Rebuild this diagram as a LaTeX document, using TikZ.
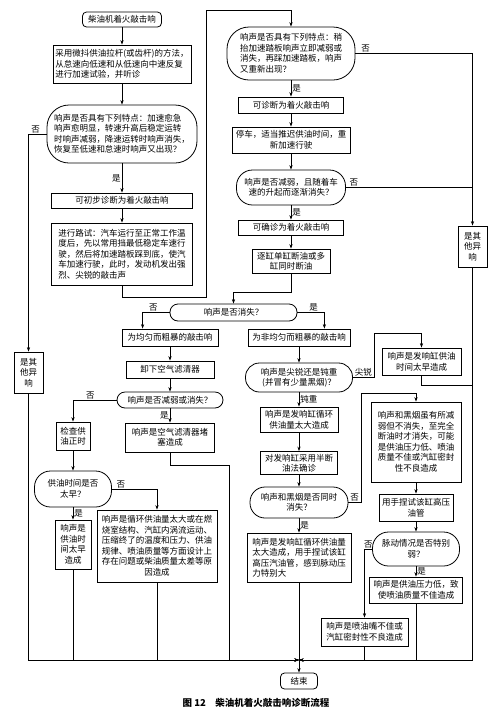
\documentclass[tikz,border=0pt]{standalone}
\usepackage{fontspec}
\setmainfont{Noto Sans CJK SC}
\usetikzlibrary{arrows.meta}

\begin{document}
\begin{tikzpicture}[x=1pt,y=-1pt,
  every node/.style={font=\fontsize{8.5}{10.5}\selectfont, inner sep=2pt},
  box/.style={draw, line width=0.8pt, align=center},
  lbox/.style={box, align=left},
  dec/.style={box, rounded corners=#1},
  ldec/.style={dec=#1, align=left},
  lbl/.style={inner sep=1pt},
  line/.style={line width=0.6pt},
  arr/.style={line width=0.6pt, -{Stealth[length=4.5pt,width=3.2pt]}}]
\useasboundingbox (0,0) rectangle (500,713);

%Left column: first tests
\node[dec=4pt, minimum width=79pt, minimum height=15pt] (start) at (122,19.5) {柴油机着火敲击响};
\node[lbox, minimum width=138pt, minimum height=38pt] (feed) at (122,64) {采用微抖供油拉杆(或齿杆)的方法，\\从怠速向低速和从低速向中速反复\\进行加速试验，并听诊};
\node[ldec=22pt, minimum width=150pt, minimum height=58pt] (accel) at (122,134) {响声是否具有下列特点：加速愈急\\响声愈明显，转速升高后稳定运转\\时响声减弱，降速运转时响声消失，\\恢复至低速和怠速时响声又出现？};
\node[box, minimum width=141pt, minimum height=15pt] (prelim) at (122,200.5) {可初步诊断为着火敲击响};
\node[lbox, minimum width=141pt, minimum height=62pt] (road) at (122,254) {进行路试：汽车运行至正常工作温\\度后，先以常用挡最低稳定车速行\\驶，然后将加速踏板踩到底，使汽\\车加速行驶，此时，发动机发出强\\烈、尖锐的敲击声};

%Right column: confirm the knock
\node[ldec=22pt, minimum width=128pt, minimum height=53pt] (pedal) at (291,53.5) {响声是否具有下列特点：稍\\抬加速踏板响声立即减弱或\\消失，再踩加速踏板，响声\\又重新出现？};
\node[box, minimum width=105pt, minimum height=16pt] (diag) at (291,105) {可诊断为着火敲击响};
\node[box, minimum width=118pt, minimum height=26pt] (retard) at (291,140) {停车，适当推迟供油时间，重\\新加速行驶};
\node[dec=16pt, minimum width=109pt, minimum height=35pt] (fade) at (291,187.5) {响声是否减弱，且随着车\\速的升起而逐渐消失？};
\node[box, minimum width=105pt, minimum height=15pt] (confirm) at (291,227.5) {可确诊为着火敲击响};
\node[box, minimum width=78pt, minimum height=24pt] (cutoff) at (291,261) {逐缸单缸断油或多\\缸同时断油};
\node[box, minimum width=29pt, minimum height=41pt] (otherR) at (472.5,246.5) {是其\\他异\\响};
\node[box, minimum width=29pt, minimum height=41pt] (otherL) at (28.5,372.5) {是其\\他异\\响};

\node[dec=8pt, minimum width=127pt, minimum height=17pt] (gone) at (233.5,312.5) {响声是否消失？};

%Even, rough knock
\node[box, minimum width=96pt, minimum height=17pt] (even) at (170,337.5) {为均匀而粗暴的敲击响};
\node[box, minimum width=88pt, minimum height=17pt] (filter) at (170,369.5) {卸下空气滤清器};
\node[dec=8pt, minimum width=106pt, minimum height=16pt] (weaker) at (170,400) {响声是否减弱或消失？};
\node[box, minimum width=34pt, minimum height=28pt] (timing) at (73,436) {检查供\\油正时};
\node[box, minimum width=89pt, minimum height=29pt] (clogged) at (170,437.5) {响声是空气滤清器堵\\塞造成};
\node[dec=16pt, minimum width=77pt, minimum height=36pt] (early) at (73,489) {供油时间是否\\太早？};
\node[box, minimum width=36pt, minimum height=49pt] (earlyres) at (73,544.5) {响声是\\供油时\\间太早\\造成};
\node[box, minimum width=120pt, minimum height=72pt] (design) at (157,546) {响声是循环供油量太大或在燃\\烧室结构、汽缸内涡流运动、\\压缩终了的温度和压力、供油\\规律、喷油质量等方面设计上\\存在问题或柴油质量太差等原\\因造成};

%Uneven, rough knock
\node[box, minimum width=102pt, minimum height=17pt] (uneven) at (299,337.5) {为非均匀而粗暴的敲击响};
\node[dec=14pt, minimum width=107pt, minimum height=29pt] (sharp) at (299,377.5) {响声是尖锐还是钝重\\(并冒有少量黑烟)？};
\node[box, minimum width=79pt, minimum height=27pt] (cylearly) at (421.5,361.5) {响声是发响缸供油\\时间太早造成};
\node[box, minimum width=78pt, minimum height=25pt] (excess) at (299,419.5) {响声是发响缸循环\\供油量太大造成};
\node[box, minimum width=77pt, minimum height=23pt] (halfcut) at (299,463) {对发响缸采用半断\\油法确诊};
\node[dec=15pt, minimum width=98pt, minimum height=31pt] (smoke) at (299,502.5) {响声和黑烟是否同时\\消失？};
\node[lbox, minimum width=104pt, minimum height=49pt] (excess2) at (299,557.5) {响声是发响缸循环供油量\\太大造成，用手捏试该缸\\高压汽油管，感到脉动压\\力特别大};
\node[box, minimum width=90pt, minimum height=80pt] (partial) at (416,442) {响声和黑烟虽有所减\\弱但不消失，至完全\\断油时才消失，可能\\是供油压力低、喷油\\质量不佳或汽缸密封\\性不良造成};
\node[box, minimum width=74pt, minimum height=27pt] (squeeze) at (416,507.5) {用手捏试该缸高压\\油管};
\node[dec=16pt, minimum width=87pt, minimum height=34pt] (pulse) at (416,549) {脉动情况是否特别\\弱？};
\node[box, minimum width=93pt, minimum height=26pt] (lowpress) at (416,590) {响声是供油压力低，致\\使喷油质量不佳造成};
\node[box, minimum width=87pt, minimum height=28pt] (nozzle) at (364.5,632) {响声是喷油嘴不佳或\\汽缸密封性不良造成};

\node[dec=4pt, minimum width=37pt, minimum height=16pt] (finish) at (299,681) {结束};
\node[font=\fontsize{9.5}{11}\selectfont\bfseries] (caption) at (256,703) {图 12\quad 柴油机着火敲击响诊断流程};

%Turning points
\coordinate (turnA) at (206,297);
\coordinate (turnB) at (206,10);
\coordinate (turnC) at (374,333);
\coordinate (turnD) at (361,393);
\coordinate (turnE) at (229,465);
\coordinate (joinR) at (472.5,385);
\coordinate (bus) at (299,660);

%Connectors
\draw[arr] (start) -- (feed);
\draw[arr] (feed) -- (accel);
\draw[arr] (accel) -- node[lbl, left] (yesA) {是} (prelim);
\draw[arr] (accel.west) -| node[lbl, above, pos=0.3] (noA) {否} (otherL.north);
\draw[arr] (prelim) -- (road);
\draw[arr] (road.south) |- (turnA) -- (turnB) -| (pedal.north);

\draw[arr] (pedal) -- node[lbl, right] (yesB) {是} (diag);
\draw[arr] (pedal.east) -| node[lbl, above right, pos=0.02] (noB) {否} (otherR.north);
\draw[arr] (diag) -- (retard);
\draw[arr] (retard) -- (fade);
\draw[line] (fade.east) -- node[lbl, above right, pos=0.02] (noC) {否} (fade.east -| otherR.north);
\draw[arr] (fade) -- node[lbl, right] (yesC) {是} (confirm);
\draw[arr] (confirm) -- (cutoff);
\draw[arr] (cutoff.south) -- ++(0,19) -| (gone.north);

\draw[arr] (gone.west) -| node[lbl, above, pos=0.3] (noD) {否} ([xshift=21pt]even.north west);
\draw[arr] (gone.east) -| node[lbl, above, pos=0.3] (yesD) {是} ([xshift=-26pt]uneven.north east);

\draw[arr] (even) -- (filter);
\draw[arr] (filter) -- (weaker);
\draw[arr] (weaker.west) -| node[lbl, above, pos=0.3] (noE) {否} (timing.north);
\draw[arr] (weaker) -- node[lbl, left] (yesE) {是} (clogged);
\draw[arr] (timing) -- (early);
\draw[arr] (early.east) -| node[lbl, above, pos=0.1] (noF) {否} (design.north);
\draw[arr] (early) -- node[lbl, right] (yesF) {是} (earlyres);

\draw[arr] (uneven) -- (sharp);
\draw[arr] (sharp.east) -| node[lbl, above, pos=0.25] (sharpA) {尖锐} (turnC) -| (cylearly.north);
\draw[line] (cylearly.south) |- (joinR);
\draw[arr] (sharp) -- node[lbl, right] (bluntA) {钝重} (excess);
\draw[arr] (excess) -- (halfcut);
\draw[arr] (halfcut) -- (smoke);
\draw[arr] (smoke.east) -| node[lbl, above, pos=0.25] (noG) {否} (turnD) -| (partial.north);
\draw[arr] (smoke) -- node[lbl, right] (yesG) {是} (excess2);
\draw[arr] (partial) -- (squeeze);
\draw[arr] (squeeze) -- (pulse);
\draw[arr] (pulse.west) -| node[lbl, above, pos=0.25] (noH) {否} (nozzle.north);
\draw[arr] (pulse) -- node[lbl, right] (yesH) {是} (lowpress);

%All ends meet at the bottom
\draw[arr] (otherL.south) |- (bus);
\draw[arr] (earlyres.south) |- (bus);
\draw[arr] (design.south) |- (bus);
\draw[arr] (clogged.south) |- (turnE) |- (bus);
\draw[arr] (nozzle.south) |- (bus);
\draw[arr] (lowpress.south) |- (bus);
\draw[arr] (otherR.south) |- (bus);
\draw[arr] (excess2) -- (finish);

\end{tikzpicture}
\end{document}
